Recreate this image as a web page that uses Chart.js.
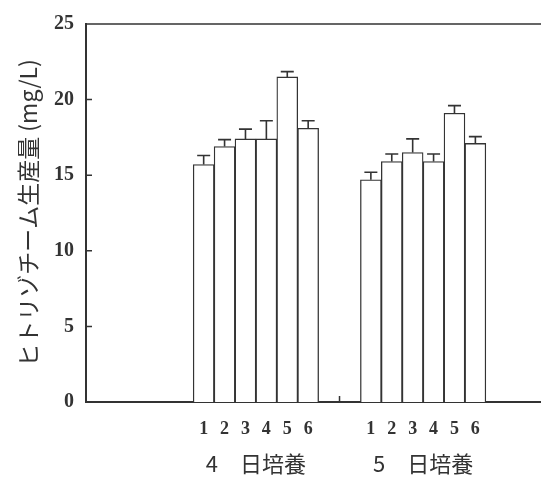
<!DOCTYPE html>
<html>
<head>
<meta charset="utf-8">
<script src="https://cdn.jsdelivr.net/npm/chart.js@4.4.0/dist/chart.umd.min.js"></script>
<style>
  html, body { margin: 0; padding: 0; background: #fff; }
</style>
</head>
<body>
<canvas id="bar-chart" width="541" height="479"></canvas>
<script>
// data
const sampleLabels = ["1", "2", "3", "4", "5", "6"];
const groupLabels = ["4\u3000日培養", "5\u3000日培養"];
const day4Values = [15.7, 16.9, 17.4, 17.4, 21.5, 18.1];
const day4Errors = [0.6, 0.45, 0.65, 1.2, 0.35, 0.5];
const day5Values = [14.7, 15.9, 16.5, 15.9, 19.1, 17.1];
const day5Errors = [0.5, 0.5, 0.9, 0.5, 0.5, 0.45];
const yTitle = "ヒトリゾチーム生産量 (mg/L)";

const INK = "#333";
const gap = 2; // empty slots between the two groups

// build bar slots from the arrays
const points = [];
const errors = [];
const tickText = {};
[day4Values, day5Values].forEach((vals, g) => {
  const errs = g === 0 ? day4Errors : day5Errors;
  vals.forEach((v, i) => {
    const slot = g * (vals.length + gap) + i;
    points.push({ x: slot, y: v });
    errors.push(errs[i]);
    tickText[slot] = sampleLabels[i];
  });
});
const groupCenters = groupLabels.map((_, g) => g * (sampleLabels.length + gap) + (sampleLabels.length - 1) / 2);
const dividerAt = (sampleLabels.length - 1 + sampleLabels.length + gap) / 2;

const X_MIN = -5.63;
const X_MAX = 16.14;

// top frame line, inward y ticks, error bars
const framePlugin = {
  id: "frame",
  afterDatasetsDraw(chart) {
    const { ctx, chartArea: a, scales: { x, y } } = chart;
    ctx.save();
    ctx.strokeStyle = INK;

    ctx.lineWidth = 1.6;
    chart.getDatasetMeta(0).data.forEach((bar, i) => {
      const top = y.getPixelForValue(points[i].y + errors[i]);
      ctx.beginPath();
      ctx.moveTo(bar.x, bar.y);
      ctx.lineTo(bar.x, top);
      ctx.moveTo(bar.x - 6.5, top);
      ctx.lineTo(bar.x + 6.5, top);
      ctx.stroke();
    });

    ctx.lineWidth = 1.5;
    ctx.beginPath();
    ctx.moveTo(a.left, a.top);
    ctx.lineTo(a.right, a.top);
    y.ticks.forEach((t, i) => {
      const py = y.getPixelForTick(i);
      ctx.moveTo(a.left, py);
      ctx.lineTo(a.left + 6, py);
    });
    const dx = x.getPixelForValue(dividerAt);
    ctx.moveTo(dx, a.bottom);
    ctx.lineTo(dx, a.bottom - 6);
    ctx.stroke();
    ctx.restore();
  }
};

const ctx = document.getElementById("bar-chart");
new Chart(ctx, {
  type: "bar",
  data: {
    datasets: [{
      data: points,
      backgroundColor: "#fff",
      borderColor: INK,
      borderWidth: 1.3,
      barPercentage: 1,
      categoryPercentage: 1
    }]
  },
  options: {
    responsive: false,
    animation: false,
    devicePixelRatio: 1,
    layout: { padding: { left: 0, right: 0, top: 17, bottom: 0 } },
    plugins: { legend: { display: false }, tooltip: { enabled: false } },
    scales: {
      x: {
        type: "linear",
        position: "bottom",
        offset: false,
        min: X_MIN,
        max: X_MAX,
        afterBuildTicks: s => { s.ticks = Object.keys(tickText).map(v => ({ value: +v })); },
        afterFit: s => { s.height = 40; },
        grid: { display: false, drawTicks: false },
        border: { color: INK, width: 2 },
        ticks: {
          autoSkip: false,
          maxRotation: 0,
          padding: 17,
          color: INK,
          font: { family: "'Liberation Serif', serif", size: 18, weight: "bold" },
          callback: v => tickText[v] ?? ""
        }
      },
      x2: {
        type: "linear",
        position: "bottom",
        offset: false,
        min: X_MIN,
        max: X_MAX,
        afterBuildTicks: s => { s.ticks = groupCenters.map(v => ({ value: v })); },
        afterFit: s => { s.height = 37; },
        grid: { display: false, drawTicks: false },
        border: { display: false },
        ticks: {
          autoSkip: false,
          maxRotation: 0,
          padding: 8,
          color: INK,
          font: { family: "'Noto Sans CJK JP', sans-serif", size: 22 },
          callback: (v, i) => groupLabels[i]
        }
      },
      y: {
        min: 0,
        max: 25,
        afterFit: s => { s.width = 86; },
        grid: { display: false, drawTicks: false },
        border: { color: INK, width: 2 },
        ticks: {
          stepSize: 5,
          padding: 12,
          color: INK,
          font: { family: "'Liberation Serif', serif", size: 20, weight: "bold" }
        },
        title: {
          display: true,
          text: yTitle,
          color: INK,
          padding: { top: 14, bottom: 0 },
          font: { family: "'Noto Sans CJK JP', sans-serif", size: 23 }
        }
      }
    }
  },
  plugins: [framePlugin]
});
</script>
</body>
</html>
